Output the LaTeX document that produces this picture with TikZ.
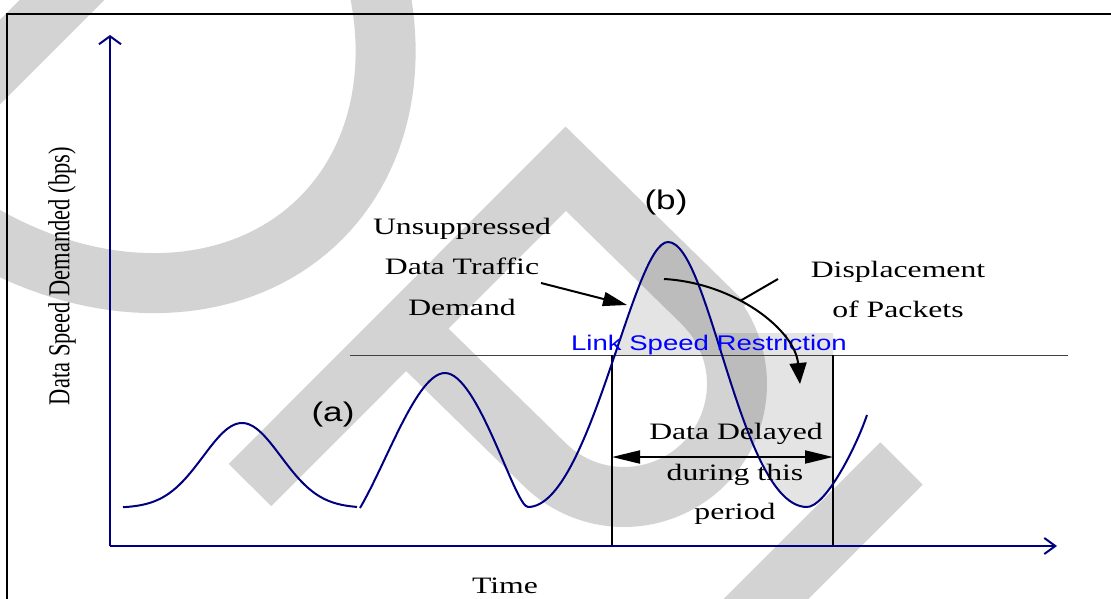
\documentclass[tikz,border=0pt]{standalone}
\usepackage{graphicx}
\usepackage{fontspec}
\usetikzlibrary{arrows.meta}

% wide Times-like and Arial-like faces
\newfontfamily\wideserif[FakeStretch=1.35]{Liberation Serif}
\newfontfamily\widesans[FakeStretch=1.3]{Liberation Sans}
\newfontfamily\plainserif{Liberation Serif}

\definecolor{wmgray}{RGB}{211,211,211}
\definecolor{navyline}{RGB}{0,0,128}
\definecolor{linkblue}{RGB}{0,0,255}

\tikzset{
  wm/.style={draw=wmgray, line width=60pt, line cap=butt, line join=miter},
  shade/.style={fill=black, fill opacity=0.106},
  axis/.style={draw=navyline, line width=2pt},
  demand/.style={draw=navyline, line width=2pt, line join=round},
  bound/.style={draw=black, line width=1.8pt},
  limit/.style={draw=black!75, line width=1pt},
  pointer/.style={draw=black, line width=2pt, -{Triangle[length=24pt,width=14pt]}},
  lblserif/.style={inner sep=0pt, anchor=base, font=\wideserif\fontsize{23.5}{28}\selectfont},
  lblsans/.style={inner sep=0pt, anchor=base, font=\widesans\fontsize{27}{32}\selectfont},
  linklbl/.style={inner sep=0pt, anchor=base, text=linkblue, font=\widesans\fontsize{21.2}{26}\selectfont},
}

\begin{document}
\begin{tikzpicture}[x=1pt, y=-1pt]
\useasboundingbox (0,0) rectangle (1111,599);

% ---------- background lettering ----------
\begin{scope}
  \clip (0,0) rectangle (1111,599);
  \path[wm]
    % D: stem and bowl
    (-150,212) -- (212,-150)
    plot[domain=0:180, samples=91, variable=\t]
      ({82.5+0.7071*(265*cos(\t)+337*sin(\t))}, {-20+0.7071*(-265*cos(\t)+337*sin(\t))})
    % P: stem, top and bowl
    (250,485) -- (565.75,168.75) -- (704,304)
    -- plot[domain=-45:135, samples=61, variable=\t] ({624+113*cos(\t)}, {384+113*sin(\t)})
    -- (406,329)
    % next letter stem
    (901.5,463.5) -- (580,785);
\end{scope}

% ---------- displaced traffic area ----------
\begin{scope}
  \clip (600,150) rectangle (760,355);
  \path[shade] (360,508) .. controls (387,462) and (417,373) .. (445,373)
    .. controls (478,373) and (515,507) .. (528,507)
    .. controls (590,507) and (633,242) .. (668,242)
    .. controls (710,242) and (740,507) .. (807,507)
    .. controls (825,507) and (855,450) .. (867,415) -- cycle;
\end{scope}
\begin{scope}
  \clip (668,333) rectangle (833,546);
  \path[shade] (360,508) .. controls (387,462) and (417,373) .. (445,373)
    .. controls (478,373) and (515,507) .. (528,507)
    .. controls (590,507) and (633,242) .. (668,242)
    .. controls (710,242) and (740,507) .. (807,507)
    .. controls (825,507) and (855,450) .. (867,415)
    -- (867,150) -- (360,150) -- cycle;
\end{scope}

% ---------- frame ----------
\coordinate (frameTR) at (1111,14);
\coordinate (frameTL) at (7,14);
\coordinate (frameBL) at (7,599);
\draw[line width=2pt] (frameTR) -- (frameTL) -- (frameBL);

% ---------- link speed limit and delay window ----------
\coordinate (limitL) at (350,355);
\coordinate (limitR) at (1068,355);
\draw[limit] (limitL) -- (limitR);

\coordinate (winLtop) at (612,355);
\coordinate (winLbot) at (612,546);
\coordinate (winRtop) at (833,355);
\coordinate (winRbot) at (833,546);
\draw[bound] (winLtop) -- (winLbot);
\draw[bound] (winRtop) -- (winRbot);

% ---------- axes ----------
\coordinate (origin) at (110,546);
\coordinate (ytip) at (110,35);
\coordinate (xtip) at (1057,546);
\draw[axis, -{Straight Barb[length=8pt,width=22pt]}] (origin) -- (ytip);
\draw[axis, -{Straight Barb[length=11pt,width=16pt]}] (origin) -- (xtip);

% ---------- demand curve ----------
\draw[demand] plot[domain=123:357, samples=90] (\x, {508-85*exp(-((\x-242)/55)^2)});
\draw[demand] (360,508) .. controls (387,462) and (417,373) .. (445,373)
  .. controls (478,373) and (515,507) .. (528,507)
  .. controls (590,507) and (633,242) .. (668,242)
  .. controls (710,242) and (740,507) .. (807,507)
  .. controls (825,507) and (855,450) .. (867,415);

% ---------- labels ----------
\node[lblserif] (unsup1) at (462,234) {Unsuppressed};
\node[lblserif] (unsup2) at (462,274) {Data Traffic};
\node[lblserif] (unsup3) at (462,315) {Demand};
\node[lblserif] (disp1) at (898,277) {Displacement};
\node[lblserif] (disp2) at (898,317) {of Packets};
\node[lblserif] (delay1) at (736,439) {Data Delayed};
\node[lblserif] (delay2) at (735,480) {during this};
\node[lblserif] (delay3) at (735,519) {period};
\node[lblserif] (timelbl) at (505,593) {Time};
\node[lblsans] (labA) at (333,421) {(a)};
\node[lblsans] (labB) at (666,209.5) {(b)};
\node[linklbl] (linklbl) at (709,350) {Link Speed Restriction};
\node[inner sep=0pt, rotate=90] (ylbl) at (62,276)
  {\scalebox{1}[1.35]{\plainserif\fontsize{22.5}{27}\selectfont Data Speed Demanded (bps)}};

% ---------- pointers ----------
\coordinate (demTail) at (541,283);
\coordinate (demTip) at (627,305);
\draw[pointer] (demTail) -- (demTip);

\coordinate (moveStart) at (664,279);
\coordinate (moveEnd) at (800,384);
\draw[pointer, -{Triangle[length=21pt,width=17pt]}] (moveStart) .. controls (735,283) and (795,330) .. (moveEnd);

\coordinate (leadA) at (778,279);
\coordinate (leadB) at (740,301);
\draw[line width=2pt] (leadA) -- (leadB);

\coordinate (delayL) at (612,457);
\coordinate (delayR) at (833,457);
\draw[line width=2pt, {Triangle[length=28pt,width=13pt]}-{Triangle[length=28pt,width=13pt]}] (delayL) -- (delayR);

\end{tikzpicture}
\end{document}
